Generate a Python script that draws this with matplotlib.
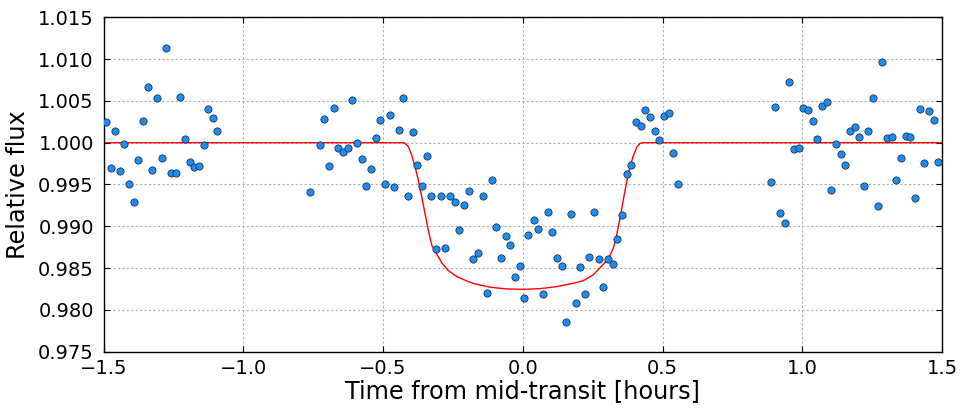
import numpy as np
import matplotlib
matplotlib.use("Agg")
import matplotlib.pyplot as plt

# observed light curve (hours from mid-transit, relative flux)
time = [-1.491, -1.472, -1.458, -1.440, -1.426, -1.408, -1.390, -1.376, -1.358, -1.340,
        -1.326, -1.308, -1.290, -1.276, -1.258, -1.240, -1.225, -1.207, -1.190, -1.175,
        -1.157, -1.140, -1.125, -1.107, -1.093,
        -0.760, -0.7245, -0.710, -0.692, -0.676, -0.660, -0.642, -0.624, -0.610, -0.592,
        -0.574, -0.560, -0.542, -0.524, -0.510, -0.492, -0.474, -0.460, -0.442, -0.4275,
        -0.410, -0.392, -0.3775, -0.3596, -0.3417, -0.3274, -0.3095, -0.2916, -0.2773, -0.2594,
        -0.2415, -0.2272, -0.2093, -0.1914, -0.1771, -0.1592, -0.1413, -0.1270, -0.1091, -0.0948,
        -0.0769, -0.0590, -0.0447, -0.0268, -0.0089, 0.0054, 0.0197, 0.0412, 0.0555, 0.0733,
        0.0912, 0.1055, 0.1234, 0.1413, 0.1556, 0.1735, 0.1914, 0.2057, 0.2236, 0.2379,
        0.2558, 0.2737, 0.2880, 0.3059, 0.3238, 0.3381, 0.3560, 0.3739, 0.3882, 0.4061,
        0.4240, 0.4383, 0.4562, 0.4741, 0.4884, 0.5063, 0.5242, 0.5385, 0.5564,
        0.889, 0.9034, 0.9213, 0.9392, 0.9535, 0.9714, 0.9893, 1.0036, 1.0215, 1.0394,
        1.0537, 1.0716, 1.0894, 1.1038, 1.1216, 1.1395, 1.1538, 1.1717, 1.1896, 1.2039,
        1.2218, 1.2361, 1.2540, 1.2719, 1.2862, 1.3041, 1.3220, 1.3363, 1.3542, 1.3721,
        1.3864, 1.4043, 1.4222, 1.4365, 1.4544, 1.4723, 1.4866]
flux = [1.00244, 0.99694, 1.00136, 0.99658, 0.99981, 0.99502, 0.99287, 0.99789, 1.00256, 1.00663,
        0.99670, 1.00531, 0.99813, 1.01129, 0.99634, 0.99634, 1.00543, 1.00041, 0.99766, 0.99706,
        0.99718, 0.99969, 1.00400, 1.00292, 1.00136,
        0.99407, 0.99969, 1.00280, 0.99718, 1.00411, 0.99933, 0.99885, 0.99933, 1.00507, 0.99993,
        0.99801, 0.99478, 0.99682, 1.00053, 1.00268, 0.99502, 1.00328, 0.99467, 1.00148, 1.00531,
        0.99359, 1.00124, 0.99730, 0.99478, 0.99837, 0.99359, 0.98725, 0.99359, 0.98737, 0.99359,
        0.99287, 0.98952, 0.99251, 0.99419, 0.98605, 0.98677, 0.99359, 0.98199, 0.99550, 0.98988,
        0.98617, 0.98880, 0.98773, 0.98390, 0.98522, 0.98139, 0.98892, 0.99072, 0.98964, 0.98187,
        0.99167, 0.98928, 0.98617, 0.98522, 0.97852, 0.99144, 0.98079, 0.98510, 0.98187, 0.98629,
        0.99167, 0.98605, 0.98270, 0.98605, 0.98545, 0.98844, 0.99132, 0.99622, 0.99730, 1.00244,
        1.00196, 1.00388, 1.00304, 1.00136, 1.00029, 1.00316, 1.00352, 0.99873, 0.99502,
        0.99526, 1.00423, 0.99155, 0.99036, 1.00722, 0.99921, 0.99933, 1.00411, 1.00388, 1.00256,
        1.00041, 1.00435, 1.00483, 0.99431, 0.99981, 0.99861, 0.99730, 1.00136, 1.00184, 1.00065,
        0.99478, 1.00136, 1.00531, 0.99239, 1.00962, 1.00053, 1.00065, 0.99550, 0.99813, 1.00077,
        1.00065, 0.99335, 1.00400, 0.99754, 1.00376, 1.00268, 0.99766]

# transit model curve
model_time = [-1.5, -0.43, -0.422, -0.4096, -0.3975, -0.3857, -0.3738, -0.3617, -0.3499, -0.3381,
              -0.3260, -0.3081, -0.2902, -0.2665, -0.2365, -0.2000, -0.1771, -0.1174, -0.0576, 0.0018,
              0.0615, 0.1213, 0.1807, 0.2165, 0.2522, 0.2800, 0.3059, 0.3238, 0.3360, 0.3478,
              0.3596, 0.3717, 0.3835, 0.3953, 0.4075, 0.4193, 0.431, 1.5]
model_flux = [1.0000, 1.0000, 0.99995, 0.99952, 0.99853, 0.99713, 0.99554, 0.99354, 0.99155, 0.98956,
              0.98776, 0.98670, 0.98565, 0.98470, 0.98400, 0.98345, 0.98315, 0.98272, 0.98250, 0.98246,
              0.98254, 0.98278, 0.98318, 0.98349, 0.98420, 0.98517, 0.98610, 0.98737, 0.98896, 0.99096,
              0.99315, 0.99533, 0.99713, 0.99841, 0.99945, 0.99993, 1.0000, 1.0000]

plt.rcParams["font.family"] = "DejaVu Sans"
plt.rcParams["xtick.direction"] = "in"
plt.rcParams["ytick.direction"] = "in"

fig = plt.figure(figsize=(9.65, 4.12), dpi=100)
ax = fig.add_axes([0.1073, 0.1464, 0.8689, 0.8116])

ax.plot(model_time, model_flux, color="red", linewidth=1.0, zorder=2)
ax.plot(time, flux, ls="none", marker="o", markersize=5.2, markerfacecolor="#1e8cf0",
        markeredgecolor="#1a3550", markeredgewidth=0.6, zorder=3)

ax.set_xlim(-1.5, 1.5)
ax.set_ylim(0.975, 1.015)
ax.set_xticks(np.arange(-1.5, 1.51, 0.5))
ax.set_yticks(np.arange(0.975, 1.0151, 0.005))
ax.yaxis.set_major_formatter(matplotlib.ticker.FormatStrFormatter("%.3f"))
ax.grid(True, color="#b0b0b0", linestyle=(0, (2, 2)), linewidth=0.8)
ax.tick_params(which="major", labelsize=14, length=4, width=0.8, top=True, right=True)
ax.tick_params(axis="x", pad=5)
ax.tick_params(axis="y", pad=7)
for s in ax.spines.values():
    s.set_linewidth(1.0)

ax.set_xlabel("Time from mid-transit [hours]", fontsize=17.3, labelpad=1)
ax.set_ylabel("Relative flux", fontsize=17.3, labelpad=6)

fig.savefig("out.png", dpi=100)
